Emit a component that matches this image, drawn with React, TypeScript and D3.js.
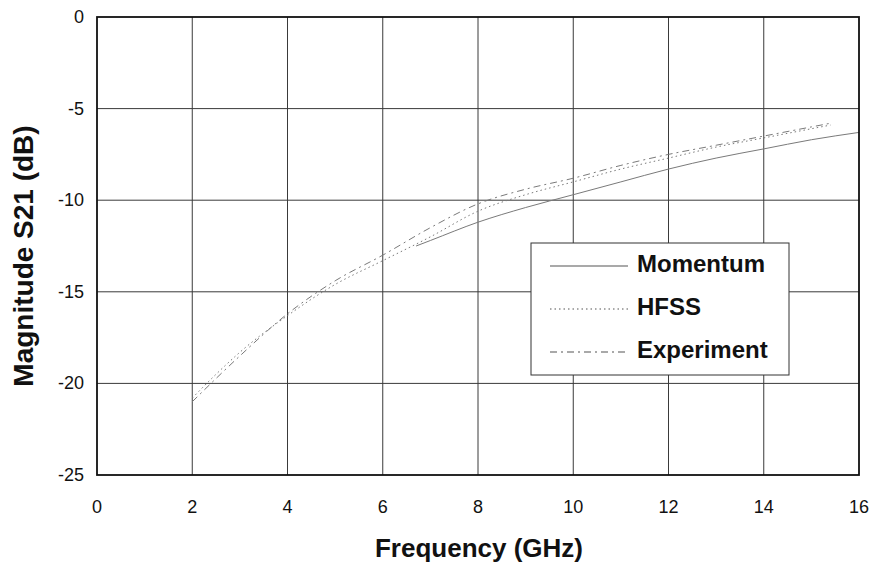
import React from "react";
import * as d3 from "d3";

const xTicks = [0, 2, 4, 6, 8, 10, 12, 14, 16];
const yTicks = [0, -5, -10, -15, -20, -25];

const momentumFreq = [6.7, 7, 8, 9, 10, 11, 12, 13, 14, 15, 16];
const momentumMag = [-12.5, -12.2, -11.2, -10.4, -9.7, -9.0, -8.3, -7.7, -7.2, -6.7, -6.3];

const hfssFreq = [2, 2.5, 3, 4, 5, 6, 7, 8, 9, 10, 11, 12, 13, 14, 15, 15.4];
const hfssMag = [-20.8, -19.5, -18.3, -16.3, -14.6, -13.3, -12.0, -10.6, -9.7, -9.0, -8.3, -7.7, -7.1, -6.6, -6.1, -5.9];

const expFreq = [2, 3, 4, 5, 6, 7, 8, 9, 10, 11, 12, 13, 14, 15, 15.4];
const expMag = [-21.0, -18.5, -16.2, -14.4, -13.0, -11.5, -10.2, -9.4, -8.8, -8.1, -7.5, -7.0, -6.5, -6.0, -5.8];

const seriesNames = ["Momentum", "HFSS", "Experiment"];

const FONT = "'Liberation Sans', Arial, sans-serif";

export default function App() {
  const W = 874;
  const H = 570;
  const x = d3.scaleLinear().domain([0, 16]).range([97, 859]);
  const y = d3.scaleLinear().domain([-25, 0]).range([475, 17]);

  const line = d3
    .line<[number, number]>()
    .x((d) => x(d[0]))
    .y((d) => y(d[1]))
    .curve(d3.curveMonotoneX);

  const zip = (a: number[], b: number[]) => a.map((v, i) => [v, b[i]] as [number, number]);

  const series = [
    { name: seriesNames[0], data: zip(momentumFreq, momentumMag), dash: undefined as string | undefined },
    { name: seriesNames[1], data: zip(hfssFreq, hfssMag), dash: "1.5,3" },
    { name: seriesNames[2], data: zip(expFreq, expMag), dash: "7,4,2,4" },
  ];

  const [x0, x1] = x.range();
  const [y0, y1] = y.range();

  const legend = { x: 531, y: 243, w: 258, h: 132 };

  return (
    <svg
      width={W}
      height={H}
      style={{ position: "absolute", left: 0, top: 0, background: "#fff" }}
      fontFamily={FONT}
    >
      <rect x={0} y={0} width={W} height={H} fill="#fff" />
      {/* grid */}
      <g stroke="#3a3a3a" strokeWidth={1}>
        {xTicks.slice(1, -1).map((t) => (
          <line key={"gx" + t} x1={x(t)} x2={x(t)} y1={y1} y2={y0} />
        ))}
        {yTicks.slice(1, -1).map((t) => (
          <line key={"gy" + t} x1={x0} x2={x1} y1={y(t)} y2={y(t)} />
        ))}
      </g>
      {/* series */}
      <g fill="none" stroke="#7a7a7a" strokeWidth={1}>
        {series.map((s) => (
          <path key={s.name} d={line(s.data) || ""} strokeDasharray={s.dash} />
        ))}
      </g>
      {/* frame */}
      <rect x={x0} y={y1} width={x1 - x0} height={y0 - y1} fill="none" stroke="#111" strokeWidth={1.8} />
      {/* tick labels */}
      <g fontSize={18} fill="#111">
        {xTicks.map((t) => (
          <text key={"tx" + t} x={x(t)} y={513} textAnchor="middle">
            {t}
          </text>
        ))}
        {yTicks.map((t) => (
          <text key={"ty" + t} x={84} y={y(t) + 6} textAnchor="end">
            {t}
          </text>
        ))}
      </g>
      {/* axis titles */}
      <text x={479} y={557} textAnchor="middle" fontSize={26} fontWeight="bold" fill="#111">
        Frequency (GHz)
      </text>
      <text
        transform={`translate(33,256) rotate(-90)`}
        textAnchor="middle"
        fontSize={28}
        fontWeight="bold"
        fill="#111"
      >
        Magnitude S21 (dB)
      </text>
      {/* legend */}
      <rect x={legend.x} y={legend.y} width={legend.w} height={legend.h} fill="#fff" stroke="#333" strokeWidth={1} />
      {series.map((s, i) => {
        const by = 272 + i * 43;
        return (
          <g key={"lg" + s.name}>
            <line x1={550} x2={628} y1={by - 6} y2={by - 6} stroke="#555" strokeWidth={1.1} strokeDasharray={s.dash} />
            <text x={637} y={by} fontSize={24} fontWeight="bold" fill="#111">
              {s.name}
            </text>
          </g>
        );
      })}
    </svg>
  );
}
